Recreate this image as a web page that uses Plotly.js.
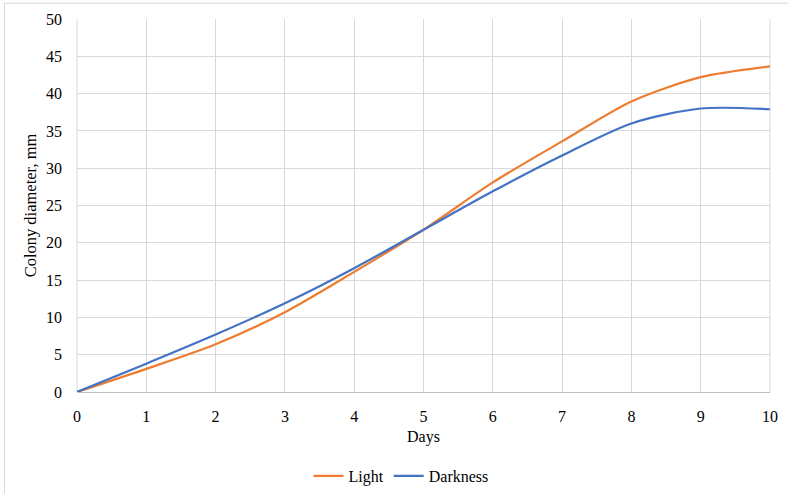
<!DOCTYPE html>
<html>
<head>
<meta charset="utf-8">
<script src="https://cdn.plot.ly/plotly-3.0.1.min.js"></script>
<style>html,body{margin:0;padding:0;background:#fff;}#chart{width:788px;height:494px;}</style>
</head>
<body>
<div id="chart"></div>
<script>
const days = [0, 1, 2, 3, 4, 5, 6, 7, 8, 9, 10];
const lightValues = [0, 3.1, 6.4, 10.7, 16.1, 21.75, 28.1, 33.6, 38.95, 42.2, 43.65];
const darknessValues = [0, 3.8, 7.7, 11.9, 16.6, 21.75, 26.9, 31.7, 36.0, 38.0, 37.9];
const seriesNames = ['Light', 'Darkness'];
const xTicks = [0, 1, 2, 3, 4, 5, 6, 7, 8, 9, 10];
const yTicks = [0, 5, 10, 15, 20, 25, 30, 35, 40, 45, 50];

const font = {family: 'Liberation Serif, DejaVu Serif, serif', size: 16, color: '#000'};
const titleFont = {family: 'Liberation Serif, DejaVu Serif, serif', size: 16.5, color: '#000'};

const traces = [
  {x: days, y: lightValues, name: seriesNames[0], type: 'scatter', mode: 'lines',
   line: {color: '#ED7D31', width: 2.2, shape: 'spline', smoothing: 0.8}},
  {x: days, y: darknessValues, name: seriesNames[1], type: 'scatter', mode: 'lines',
   line: {color: '#4472C4', width: 2.2, shape: 'spline', smoothing: 0.8}}
];

const L = 77, R = 770, T = 19.3, B = 392.3;
const W = 788, H = 494;
const px = v => (v - L) / (R - L);
const py = v => (B - v) / (B - T);

const layout = {
  width: W, height: H,
  margin: {l: L, r: W - R, t: T, b: H - B},
  paper_bgcolor: '#fff', plot_bgcolor: '#fff',
  font: font,
  showlegend: true,
  legend: {orientation: 'h', xref: 'container', yref: 'container', x: 401 / W, y: 1 - 476 / H,
           xanchor: 'center', yanchor: 'middle', font: font, itemwidth: 30, tracegroupgap: 0},
  xaxis: {range: [0, 10], tickvals: xTicks, ticktext: xTicks.map(String), showgrid: true,
          gridcolor: '#d9d9d9', gridwidth: 1, zeroline: false, showline: true, linecolor: '#bfbfbf',
          linewidth: 1, ticks: '', ticklabelstandoff: 10, tickfont: font, fixedrange: true,
          title: {text: 'Days', font: font, standoff: 6}},
  yaxis: {range: [0, 50], tickvals: yTicks, ticktext: yTicks.map(String), showgrid: true,
          gridcolor: '#d9d9d9', gridwidth: 1, zeroline: false, showline: false, ticks: '',
          ticklabelstandoff: 14, tickfont: font, fixedrange: true,
          title: {text: 'Colony diameter, mm', font: titleFont, standoff: 5}},
  shapes: [
    {type: 'line', xref: 'paper', yref: 'paper', x0: px(4.5), x1: px(790), y0: py(3.5), y1: py(3.5),
     line: {color: '#d9d9d9', width: 1}},
    {type: 'line', xref: 'paper', yref: 'paper', x0: px(4.5), x1: px(4.5), y0: py(3.5), y1: py(496),
     line: {color: '#d9d9d9', width: 1}},
    {type: 'line', xref: 'paper', yref: 'paper', x0: 1, x1: 1, y0: 0, y1: 1,
     line: {color: '#d9d9d9', width: 1}, layer: 'below'},
    {type: 'line', xref: 'paper', yref: 'paper', x0: 0, x1: 0, y0: 0, y1: 1,
     line: {color: '#d9d9d9', width: 1}, layer: 'below'}
  ]
};

Plotly.newPlot('chart', traces, layout, {displayModeBar: false, staticPlot: true});
</script>
</body>
</html>
